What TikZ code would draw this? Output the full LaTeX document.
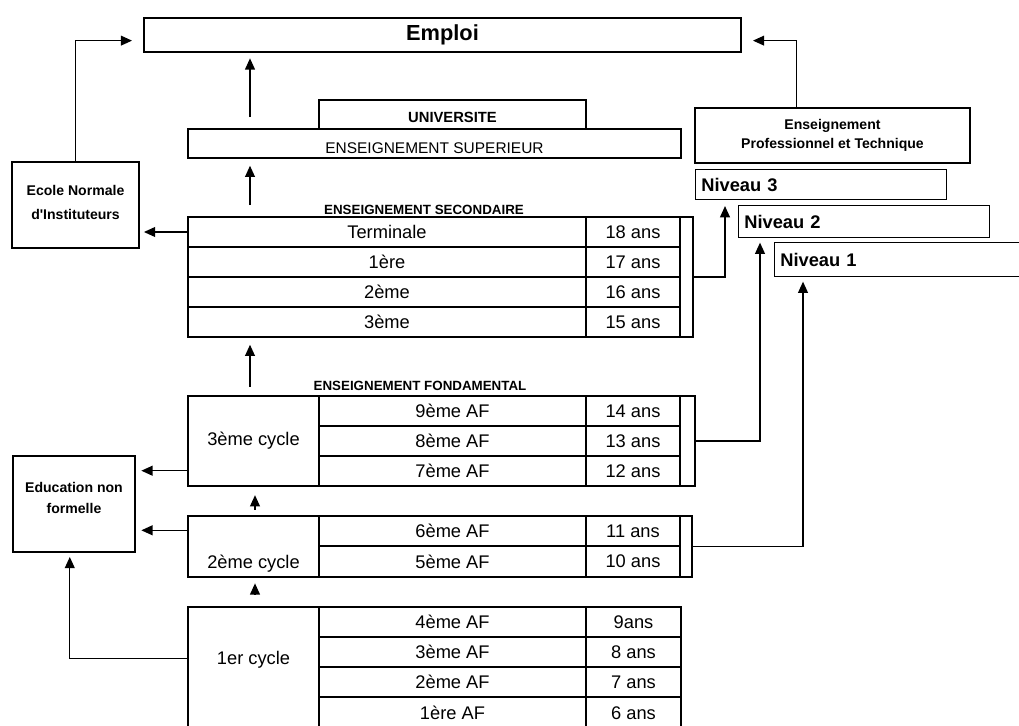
\documentclass[tikz,border=0pt]{standalone}
\usepackage{fontspec}
\setmainfont{Liberation Sans}
\usetikzlibrary{arrows.meta,positioning,fit,calc}

\begin{document}
\begin{tikzpicture}[x=0.025cm,y=-0.025cm,
      box/.style={draw,line width=1pt,inner sep=0pt},
      every label/.style={font=\fontsize{13}{15}\selectfont,inner sep=0pt},
      hd/.style={font=\fontsize{9.5}{11}\selectfont\bfseries},
      sidelbl/.style={align=center,font=\fontsize{10}{14}\selectfont\bfseries},
      niv/.style={box,anchor=north west,align=left,inner xsep=4pt,font=\fontsize{13}{15}\selectfont\bfseries},
      arr/.style={-{Triangle[length=8pt,width=7pt]},line width=1pt}
    ]
    \useasboundingbox (0,0) rectangle (1019,725);
    \clip (0,0) rectangle (1019,725);
    \fill[white] (0,0) rectangle (1019,725);

    % top
    \node[box,fit={(144,18) (741,52)},label={[font=\fontsize{15.5}{18}\selectfont\bfseries]center:Emploi}] (emploi) {};
    \node[box,fit={(319,100) (586,129)},label={[font=\fontsize{10.5}{12}\selectfont\bfseries,yshift=-2pt]center:UNIVERSITE}] (univ) {};
    \node[box,fit={(188,129) (681,158)},label={[font=\fontsize{11}{13}\selectfont,yshift=-3pt]center:ENSEIGNEMENT SUPERIEUR}] (sup) {};
    \node[box,fit={(12,162) (139,248)},label={[sidelbl,font=\fontsize{10}{17}\selectfont\bfseries,yshift=2pt]center:Ecole Normale\\d\textquotesingle Instituteurs}] (ecole) {};
    \node[box,fit={(695,108) (970,163)},label={[sidelbl]center:Enseignement\\Professionnel et Technique}] (prof) {};
    \node[niv,text width=5.99cm,minimum height=0.75cm] (niv3) at (695,169) {Niveau 3};
    \node[niv,text width=5.99cm,minimum height=0.8cm] (niv2) at (738,205) {Niveau 2};
    \node[niv,text width=7.5cm,minimum height=0.85cm] (niv1) at (774,242) {Niveau 1};

    % secondaire
    \node[hd] (hsec) at (424,210) {ENSEIGNEMENT SECONDAIRE};
    \node[box,fit={(188,217) (586,247)},label=center:Terminale] (s1) {};
    \node[box,fit={(188,247) (586,277)},label=center:1ère] (s2) {};
    \node[box,fit={(188,277) (586,307)},label=center:2ème] (s3) {};
    \node[box,fit={(188,307) (586,337)},label=center:3ème] (s4) {};
    \node[box,fit={(586,217) (680,247)},label=center:18 ans] (ag18) {};
    \node[box,fit={(586,247) (680,277)},label=center:17 ans] (ag17) {};
    \node[box,fit={(586,277) (680,307)},label=center:16 ans] (ag16) {};
    \node[box,fit={(586,307) (680,337)},label=center:15 ans] (ag15) {};
    \node[box,fit={(680,217) (693,337)}] (sside) {};

    % fondamental
    \node[hd] (hfond) at (420,386) {ENSEIGNEMENT FONDAMENTAL};
    \node[box,fit={(188,396) (319,486)},label=center:3ème cycle] (c3) {};
    \node[box,fit={(319,396) (586,426)},label=center:9ème AF] (af9) {};
    \node[box,fit={(319,426) (586,456)},label=center:8ème AF] (af8) {};
    \node[box,fit={(319,456) (586,486)},label=center:7ème AF] (af7) {};
    \node[box,fit={(586,396) (680,426)},label=center:14 ans] (ag14) {};
    \node[box,fit={(586,426) (680,456)},label=center:13 ans] (ag13) {};
    \node[box,fit={(586,456) (680,486)},label=center:12 ans] (ag12) {};
    \node[box,fit={(680,396) (695,486)}] (side3) {};

    \node[box,fit={(188,516) (319,577)},label={[yshift=-12pt]center:2ème cycle}] (c2) {};
    \node[box,fit={(319,516) (586,546)},label=center:6ème AF] (af6) {};
    \node[box,fit={(319,546) (586,577)},label=center:5ème AF] (af5) {};
    \node[box,fit={(586,516) (680,546)},label=center:11 ans] (ag11) {};
    \node[box,fit={(586,546) (680,577)},label=center:10 ans] (ag10) {};
    \node[box,fit={(680,516) (692,577)}] (side2) {};

    \node[box,fit={(188,607) (319,729)},label={[yshift=6pt]center:1er cycle}] (c1) {};
    \node[box,fit={(319,607) (586,637)},label=center:4ème AF] (af4) {};
    \node[box,fit={(319,637) (586,667)},label=center:3ème AF] (af3) {};
    \node[box,fit={(319,667) (586,697)},label=center:2ème AF] (af2) {};
    \node[box,fit={(319,697) (586,729)},label=center:1ère AF] (af1) {};
    \node[box,fit={(586,607) (681,637)},label=center:9ans] (ag9) {};
    \node[box,fit={(586,637) (681,667)},label=center:8 ans] (ag8) {};
    \node[box,fit={(586,667) (681,697)},label=center:7 ans] (ag7) {};
    \node[box,fit={(586,697) (681,729)},label=center:6 ans] (ag6) {};

    \node[box,fit={(13,456) (135,552)},label={[sidelbl,font=\fontsize{10}{15}\selectfont\bfseries,yshift=4pt]center:Education non\\formelle}] (edu) {};

    % arrows
    \coordinate (up) at (250,0);
    \coordinate (up2) at (255,0);
    \draw[arr,shorten <=8pt,shorten >=4pt] (sup.north -| up) -- (emploi.south -| up);
    \draw[arr,shorten <=8pt,shorten >=5pt] (s1.north -| up) -- (sup.south -| up);
    \draw[arr,shorten <=6pt,shorten >=5pt] (c3.north -| up) -- (s4.south -| up);
    \draw[arr,shorten <=4pt,shorten >=6pt] (c2.north -| up2) -- (c3.south -| up2);
    \draw[arr,shorten <=9pt,shorten >=4pt] (c1.north -| up2) -- (c2.south -| up2);

    \draw[arr,shorten >=8pt] (ecole.north) |- ([yshift=-4pt]emploi.west);
    \draw[arr,shorten >=8pt] ($(prof.north west)+(102,0)$) |- ([yshift=-4pt]emploi.east);
    \draw[arr,shorten >=3pt] (s1.west) -- (s1.west -| ecole.east);

    \draw[arr,shorten >=4pt] (sside.east) -| ($(niv3.south west)+(30,0)$);
    \draw[arr,shorten >=3pt] (side3.east) -| ($(niv2.south west)+(22,0)$);
    \draw[arr,shorten >=3pt] (side2.east) -| ($(niv1.south west)+(29,0)$);

    \coordinate (o3) at ($(c3.south west)+(0,-16)$);
    \coordinate (o2) at ($(c2.north west)+(0,15)$);
    \coordinate (o1) at ($(c1.north west)+(0,52)$);
    \draw[arr,shorten >=4pt] (o3) -- (o3 -| edu.east);
    \draw[arr,shorten >=4pt] (o2) -- (o2 -| edu.east);
    \draw[arr,shorten >=3pt] (o1) -| ([xshift=-3pt]edu.south);
  \end{tikzpicture}
\end{document}
